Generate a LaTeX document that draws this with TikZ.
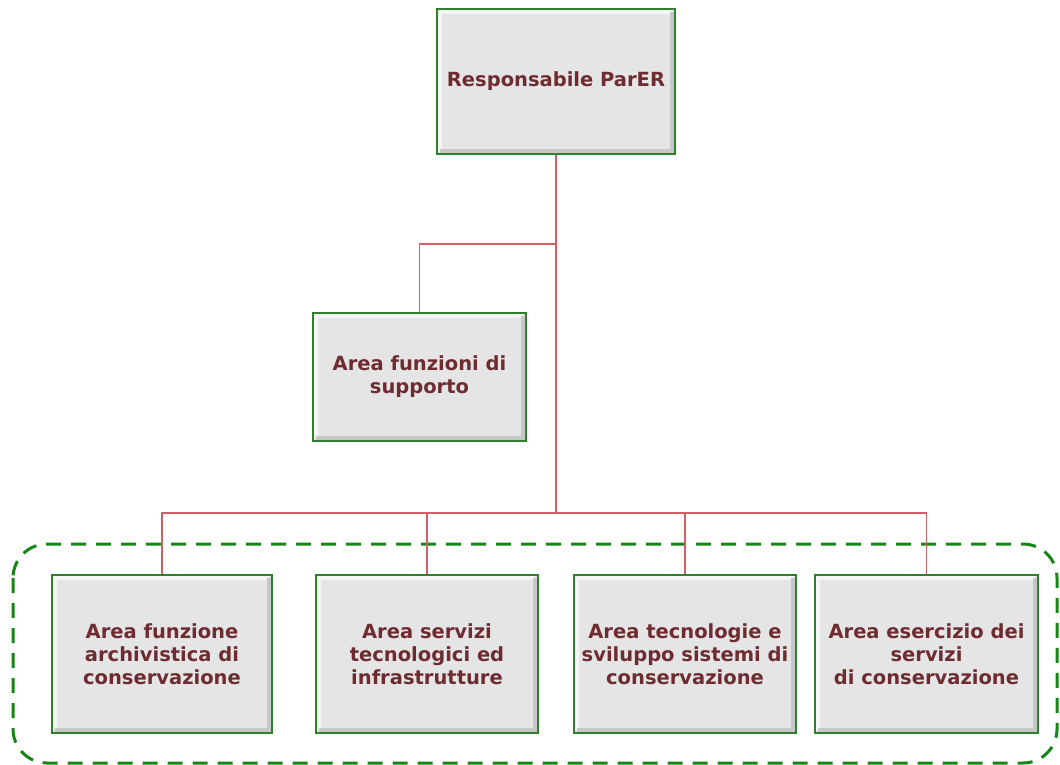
\documentclass[tikz,border=0pt]{standalone}
\usepackage{fontspec}
\setmainfont{DejaVu Sans}
\usepackage{tikz}
\usetikzlibrary{positioning}

\definecolor{boxgreen}{RGB}{46,128,46}
\definecolor{framegreen}{RGB}{20,135,20}
\definecolor{linkred}{RGB}{208,96,100}
\definecolor{labelred}{RGB}{110,44,48}
\definecolor{boxfill}{RGB}{229,229,229}

\tikzset{
  unitbox/.style={draw=boxgreen, line width=2pt, fill=boxfill, align=center,
    text=labelred, font=\fontsize{19.5}{23}\selectfont\bfseries,
    path picture={
      \draw[white!60!boxfill, line width=4pt]
        ([shift={(3pt,3pt)}]path picture bounding box.south west) |-
        ([shift={(-3pt,-3pt)}]path picture bounding box.north east);
      \draw[black!22, line width=4pt]
        ([shift={(3pt,3pt)}]path picture bounding box.south west) -|
        ([shift={(-3pt,-3pt)}]path picture bounding box.north east);
    }},
  link/.style={draw=linkred, line width=1.3pt},
  groupframe/.style={draw=framegreen, line width=3pt, dash pattern=on 15pt off 10pt,
    rounded corners=34pt}
}

\begin{document}
\begin{tikzpicture}[x=1pt, y=-1pt]
	\useasboundingbox (0,0) rectangle (1060,765);
	\draw[groupframe] (13,544) rectangle (1057,763);
	\node[unitbox, minimum width=238pt, minimum height=145pt] (head) at (556,81.5) {Responsabile ParER};
	\node[unitbox, minimum width=213pt, minimum height=128pt] (support) at (419.5,377) {Area funzioni di\\supporto};
	\node[unitbox, minimum width=220pt, minimum height=158pt] (archive) at (162,654) {Area funzione\\archivistica di\\conservazione};
	\node[unitbox, minimum width=222pt, minimum height=158pt] (infra) at (427,654) {Area servizi\\tecnologici ed\\infrastrutture};
	\node[unitbox, minimum width=222pt, minimum height=158pt] (devel) at (685,654) {Area tecnologie e\\sviluppo sistemi di\\conservazione};
	\node[unitbox, minimum width=223pt, minimum height=158pt] (service) at (926.5,654) {Area esercizio dei\\servizi\\di conservazione};
	\coordinate (split) at (556,244);
	\coordinate (bus) at (556,513);
	\draw[link] (head.south) -- (bus);
	\draw[link] (split) -| (support.north);
	\draw[link] (bus) -| (archive.north);
	\draw[link] (bus) -| (infra.north);
	\draw[link] (bus) -| (devel.north);
	\draw[link] (bus) -| (service.north);
\end{tikzpicture}
\end{document}
